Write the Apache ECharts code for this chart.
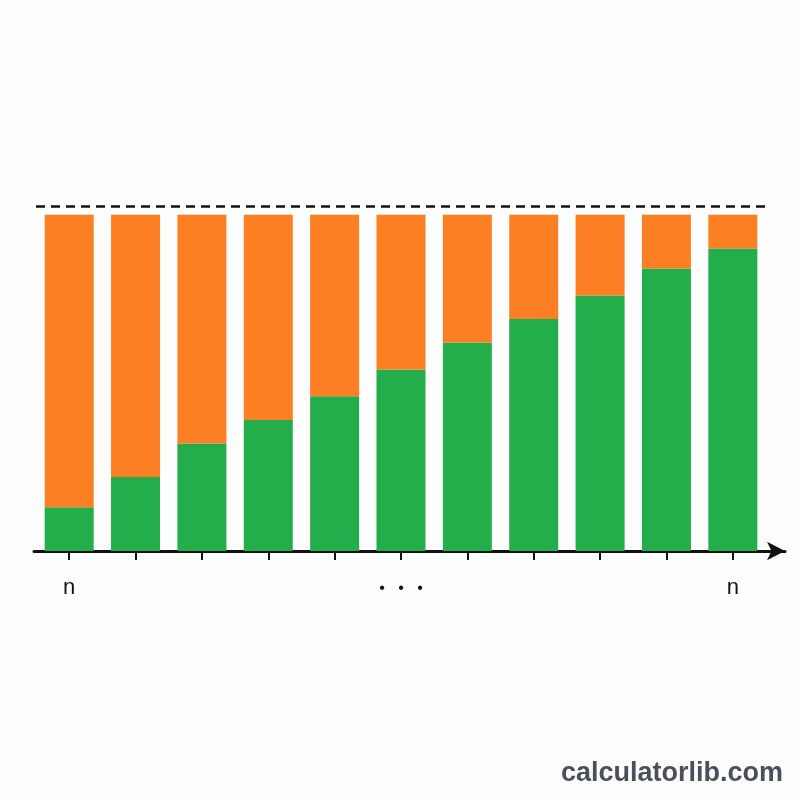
<!DOCTYPE html>
<html>
<head>
<meta charset="utf-8">
<script src="https://cdn.jsdelivr.net/npm/echarts@6/dist/echarts.min.js"></script>
<style>
  html, body { margin: 0; padding: 0; background: #fdfdfd; }
  #chart { width: 800px; height: 800px; }
</style>
</head>
<body>
<div id="chart"></div>
<script>
// categories and tick labels
let categories = ['c1', 'c2', 'c3', 'c4', 'c5', 'c6', 'c7', 'c8', 'c9', 'c10', 'c11'];
let tickLabels = ['n', '', '', '', '', '{dot|•   •   •}', '', '', '', '', 'n'];
// stacked values (percent of total)
let greenValues = [13, 22, 32, 39, 46, 54, 62, 69, 76, 84, 90];
let orangeValues = [87, 78, 68, 61, 54, 46, 38, 31, 24, 16, 10];
let limitValue = 102.4;

let chart = echarts.init(document.getElementById('chart'));

let option = {
  backgroundColor: '#fdfdfd',
  animation: false,
  grid: [
    { left: 36, right: 34, top: 198, bottom: 249 },
    { left: 34, right: 15, top: 198, bottom: 249 }
  ],
  xAxis: [
    {
      type: 'category',
      gridIndex: 0,
      data: categories,
      axisLine: { show: false },
      axisTick: {
        show: true,
        alignWithLabel: true,
        length: 9,
        lineStyle: { color: '#111', width: 2 }
      },
      axisLabel: {
        interval: 0,
        margin: 26,
        color: '#111',
        fontSize: 22,
        fontFamily: 'Liberation Sans',
        formatter: function (v, i) { return tickLabels[i]; },
        rich: {
          dot: {
            fontSize: 16,
            lineHeight: 22,
            color: '#111',
            fontFamily: 'Liberation Sans',
            padding: [2, 0, 0, 0]
          }
        }
      }
    },
    {
      type: 'value',
      gridIndex: 1,
      min: 0,
      max: 1,
      axisLine: {
        show: true,
        symbol: ['none', 'arrow'],
        symbolSize: [14, 18],
        lineStyle: { color: '#111', width: 3 }
      },
      axisTick: { show: false },
      axisLabel: { show: false },
      splitLine: { show: false }
    }
  ],
  yAxis: [
    { type: 'value', gridIndex: 0, min: 0, max: 105, show: false },
    { type: 'value', gridIndex: 1, min: 0, max: 1, show: false }
  ],
  series: [
    {
      name: 'green',
      type: 'bar',
      stack: 'total',
      barWidth: 49,
      data: greenValues,
      itemStyle: { color: '#23ad4b' },
      markLine: {
        silent: true,
        symbol: 'none',
        label: { show: false },
        lineStyle: { color: '#111', type: [9, 6], width: 2.5 },
        data: [{ yAxis: limitValue }]
      }
    },
    {
      name: 'orange',
      type: 'bar',
      stack: 'total',
      barWidth: 49,
      data: orangeValues,
      itemStyle: { color: '#fd7f23' }
    }
  ],
  graphic: [
    {
      type: 'text',
      right: 17,
      bottom: 13,
      style: {
        text: 'calculatorlib.com',
        fill: '#4a4f5b',
        fontSize: 27,
        fontWeight: 'bold',
        fontFamily: 'Liberation Sans'
      }
    }
  ]
};

chart.setOption(option);
</script>
</body>
</html>
